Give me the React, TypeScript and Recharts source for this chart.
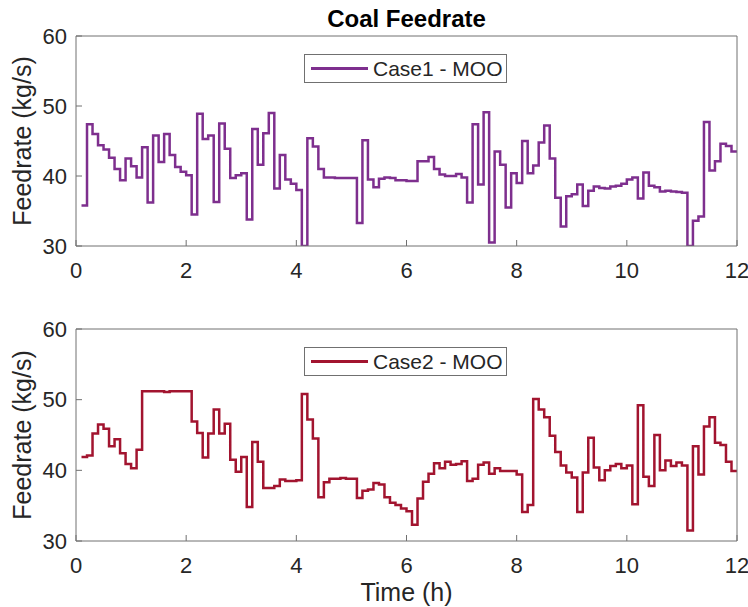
import { LineChart, Line, XAxis, YAxis, Legend, Label } from "recharts";

// sample times: first step at 0.1 h, one step every 0.1 h, last step held to 12 h
const START = 0.1;
const STEP = 0.1;
const END = 12;

const case1 = [
  35.8, 47.4, 46.0, 44.4, 43.8, 42.6, 41.0, 39.4, 42.5, 41.4,
  39.8, 44.1, 36.2, 45.8, 42.0, 46.0, 43.0, 41.3, 40.6, 40.1,
  34.5, 48.9, 45.3, 45.8, 36.3, 47.5, 43.9, 39.7, 40.1, 40.4,
  33.8, 46.7, 41.6, 46.1, 49.0, 38.2, 43.0, 39.5, 38.9, 38.0,
  30.0, 45.4, 44.2, 41.0, 39.8, 39.8, 39.7, 39.7, 39.7, 39.7,
  33.3, 45.1, 39.5, 38.4, 39.6, 39.8, 39.7, 39.4, 39.4, 39.3,
  39.3, 42.1, 42.1, 42.7, 41.0, 40.2, 40.0, 40.0, 40.3, 39.8,
  36.2, 47.4, 38.8, 49.1, 30.5, 43.5, 41.6, 35.5, 40.4, 39.0,
  45.0, 40.4, 41.5, 44.8, 47.2, 42.5, 36.9, 32.8, 37.1, 37.4,
  38.8, 35.7, 37.9, 38.5, 38.3, 38.2, 38.5, 38.6, 38.9, 39.5,
  39.8, 36.8, 40.5, 38.6, 38.4, 37.8, 37.9, 37.8, 37.7, 37.6,
  30.0, 33.6, 34.2, 47.7, 40.8, 42.1, 44.6, 44.3, 43.5,
];

const case2 = [
  41.9, 42.1, 45.2, 46.5, 45.9, 43.4, 44.4, 42.4, 40.9, 40.3,
  42.9, 51.2, 51.2, 51.2, 51.2, 51.1, 51.2, 51.2, 51.2, 51.2,
  46.9, 45.3, 41.8, 45.2, 48.6, 45.2, 46.6, 41.5, 39.8, 41.9,
  34.8, 44.0, 41.2, 37.5, 37.5, 37.8, 38.7, 38.5, 38.5, 38.6,
  50.8, 47.2, 44.5, 36.2, 38.3, 38.8, 38.8, 38.9, 38.8, 38.8,
  36.1, 37.1, 37.3, 38.2, 38.0, 36.2, 35.4, 35.1, 34.6, 34.2,
  32.3, 36.0, 38.4, 39.5, 41.0, 40.3, 41.2, 40.8, 40.9, 41.3,
  38.5, 38.8, 40.8, 41.1, 39.5, 40.3, 39.9, 39.9, 39.9, 39.4,
  34.1, 35.1, 50.1, 48.6, 47.5, 44.9, 42.6, 40.7, 39.7, 39.0,
  34.1, 39.7, 44.6, 40.4, 38.6, 40.0, 40.6, 40.9, 40.3, 40.7,
  35.2, 49.2, 39.1, 37.8, 45.0, 40.0, 41.4, 40.6, 41.1, 40.7,
  31.5, 43.4, 39.4, 46.2, 47.5, 43.9, 43.6, 41.2, 39.9,
];

const xTicks = [0, 2, 4, 6, 8, 10, 12];
const yTicks = [30, 40, 50, 60];

const FONT = '"Liberation Sans", Arial, Helvetica, sans-serif';
const AXIS = "#707070";
const TEXT = "#262626";

function toRows(values: number[]) {
  const rows = values.map((v, i) => ({ t: +(START + i * STEP).toFixed(1), v }));
  rows.push({ t: END, v: values[values.length - 1] });
  return rows;
}

type PanelProps = {
  values: number[];
  name: string;
  color: string;
  height: number;
  margin: { top: number; right: number; bottom: number; left: number };
  title?: string;
  xLabel?: string;
};

function Panel({ values, name, color, height, margin, title, xLabel }: PanelProps) {
  return (
    <LineChart width={748} height={height} data={toRows(values)} margin={margin}>
      <XAxis
        xAxisId="b"
        dataKey="t"
        type="number"
        domain={[0, 12]}
        ticks={xTicks}
        interval={0}
        height={30}
        tickSize={-6}
        tickMargin={22}
        stroke={AXIS}
        tick={{ fill: TEXT, fontSize: 22 }}
      >
        {xLabel && (
          <Label value={xLabel} position="bottom" offset={12} fill={TEXT} fontSize={25} />
        )}
      </XAxis>
      {/* box top edge, ticks pointing in */}
      <XAxis
        xAxisId="top"
        orientation="top"
        dataKey="t"
        type="number"
        domain={[0, 12]}
        ticks={xTicks}
        interval={0}
        height={1}
        tickSize={-6}
        tick={false}
        stroke={AXIS}
      >
        {title && (
          <Label
            value={title}
            position="top"
            offset={8}
            fill="#000"
            fontSize={24}
            fontWeight="bold"
          />
        )}
      </XAxis>
      <YAxis
        yAxisId="l"
        type="number"
        domain={[30, 60]}
        ticks={yTicks}
        allowDataOverflow
        width={76}
        tickSize={-6}
        tickMargin={15}
        stroke={AXIS}
        tick={{ fill: TEXT, fontSize: 22 }}
      >
        <Label
          content={({ viewBox }: any) => {
            const cy = viewBox.y + viewBox.height / 2;
            return (
              <text
                x={22}
                y={cy}
                transform={`rotate(-90, 22, ${cy})`}
                textAnchor="middle"
                dominantBaseline="central"
                fill={TEXT}
                fontSize={25}
              >
                Feedrate (kg/s)
              </text>
            );
          }}
        />
      </YAxis>
      {/* box right edge */}
      <YAxis
        yAxisId="r"
        orientation="right"
        type="number"
        domain={[30, 60]}
        ticks={yTicks}
        allowDataOverflow
        width={1}
        tickSize={-6}
        tick={false}
        stroke={AXIS}
      />
      <Legend
        verticalAlign="middle"
        align="center"
        layout="horizontal"
        wrapperStyle={{ left: 304, top: margin.top + 19, width: "auto", height: "auto" }}
        content={() => (
          <div
            style={{
              width: 203,
              height: 29,
              boxSizing: "border-box",
              border: `1px solid ${AXIS}`,
              background: "#fff",
              display: "flex",
              alignItems: "center",
              fontFamily: FONT,
            }}
          >
            <div style={{ marginLeft: 6, width: 57, height: 2.4, background: color }} />
            <span style={{ marginLeft: 5, fontSize: 21, color: TEXT, whiteSpace: "nowrap" }}>
              {name}
            </span>
          </div>
        )}
      />
      {/* invisible copy so the top and right axes get drawn */}
      <Line
        xAxisId="top"
        yAxisId="r"
        dataKey="v"
        type="stepAfter"
        stroke="none"
        dot={false}
        activeDot={false}
        legendType="none"
        isAnimationActive={false}
      />
      <Line
        xAxisId="b"
        yAxisId="l"
        dataKey="v"
        name={name}
        type="stepAfter"
        stroke={color}
        strokeWidth={2.5}
        dot={false}
        activeDot={false}
        isAnimationActive={false}
      />
    </LineChart>
  );
}

export default function App() {
  return (
    <div
      style={{
        position: "absolute",
        left: 0,
        top: 0,
        width: 748,
        height: 607,
        background: "#fff",
        fontFamily: FONT,
      }}
    >
      <Panel
        values={case1}
        name="Case1 - MOO"
        color="#7E2F8E"
        height={290}
        margin={{ top: 35, right: 10, bottom: 14, left: 0 }}
        title="Coal Feedrate"
      />
      <Panel
        values={case2}
        name="Case2 - MOO"
        color="#A2142F"
        height={317}
        margin={{ top: 38, right: 10, bottom: 36, left: 0 }}
        xLabel="Time (h)"
      />
    </div>
  );
}
